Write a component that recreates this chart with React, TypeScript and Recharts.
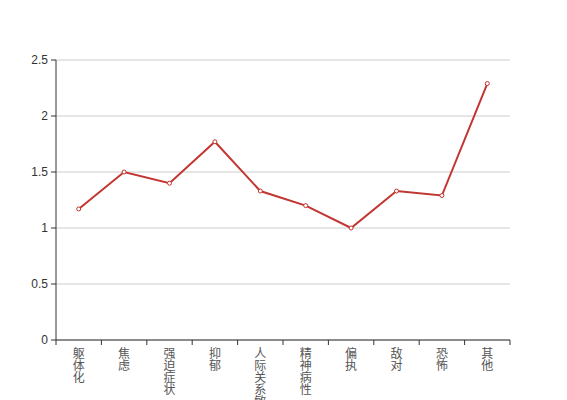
import React from 'react';
import { LineChart, Line, XAxis, YAxis, CartesianGrid } from 'recharts';

const categories = ['躯体化', '焦虑', '强迫症状', '抑郁', '人际关系敏感', '精神病性', '偏执', '敌对', '恐怖', '其他'];
const scores = [1.17, 1.5, 1.4, 1.77, 1.33, 1.2, 1.0, 1.33, 1.29, 2.29];
const yTicks = [0, 0.5, 1, 1.5, 2, 2.5];

const data = categories.map((name, i) => ({ name, value: scores[i] }));

const TICK_SIZE = 5;
const TICK_MARGIN = 8;
const AXIS_COLOR = '#333';
const LINE_COLOR = '#c23531';
const FONT = '"Liberation Sans", Arial, "Noto Sans CJK SC", sans-serif';

const VerticalTick = (props: any) => {
  const { x, y, payload, width } = props;
  const n = categories.length;
  const half = payload && typeof payload.offset === 'number' && payload.offset > 0 ? payload.offset : width / n / 2;
  const axisY = y - TICK_SIZE - TICK_MARGIN;
  const idx = payload.index ?? props.index;
  const chars = String(payload.value).split('');
  return (
    <g>
      <line x1={x - half} x2={x - half} y1={axisY} y2={axisY + TICK_SIZE} stroke={AXIS_COLOR} strokeWidth={1} />
      {idx === n - 1 && (
        <line x1={x + half} x2={x + half} y1={axisY} y2={axisY + TICK_SIZE} stroke={AXIS_COLOR} strokeWidth={1} />
      )}
      <text x={x} y={axisY + 18} textAnchor="middle" fill="#555" fontSize={12} fontFamily='"Noto Sans CJK SC", sans-serif'>
        {chars.map((c, i) => (
          <tspan key={i} x={x} dy={i === 0 ? 0 : 12}>
            {c}
          </tspan>
        ))}
      </text>
    </g>
  );
};

export default function App() {
  return (
    <div style={{ position: 'absolute', left: 0, top: 0, width: 567, height: 400, background: '#fff' }}>
      <LineChart width={567} height={400} data={data} margin={{ top: 60, right: 57, bottom: 0, left: 0 }}>
        <CartesianGrid vertical={false} stroke="#ccc" strokeWidth={1} />
        <XAxis
          dataKey="name"
          type="category"
          scale="band"
          interval={0}
          height={60}
          tickLine={false}
          tickSize={TICK_SIZE}
          tickMargin={TICK_MARGIN}
          axisLine={{ stroke: AXIS_COLOR }}
          tick={<VerticalTick />}
        />
        <YAxis
          type="number"
          domain={[0, 2.5]}
          ticks={yTicks}
          width={56}
          tickSize={5}
          tickMargin={3}
          axisLine={{ stroke: AXIS_COLOR }}
          tickLine={{ stroke: AXIS_COLOR }}
          tick={{ fill: '#333', fontSize: 12, fontFamily: FONT }}
          tickFormatter={(v: number) => String(v)}
        />
        <Line
          type="linear"
          dataKey="value"
          stroke={LINE_COLOR}
          strokeWidth={2}
          dot={{ r: 2, fill: '#fff', stroke: LINE_COLOR, strokeWidth: 1 }}
          activeDot={false}
          isAnimationActive={false}
        />
      </LineChart>
    </div>
  );
}
